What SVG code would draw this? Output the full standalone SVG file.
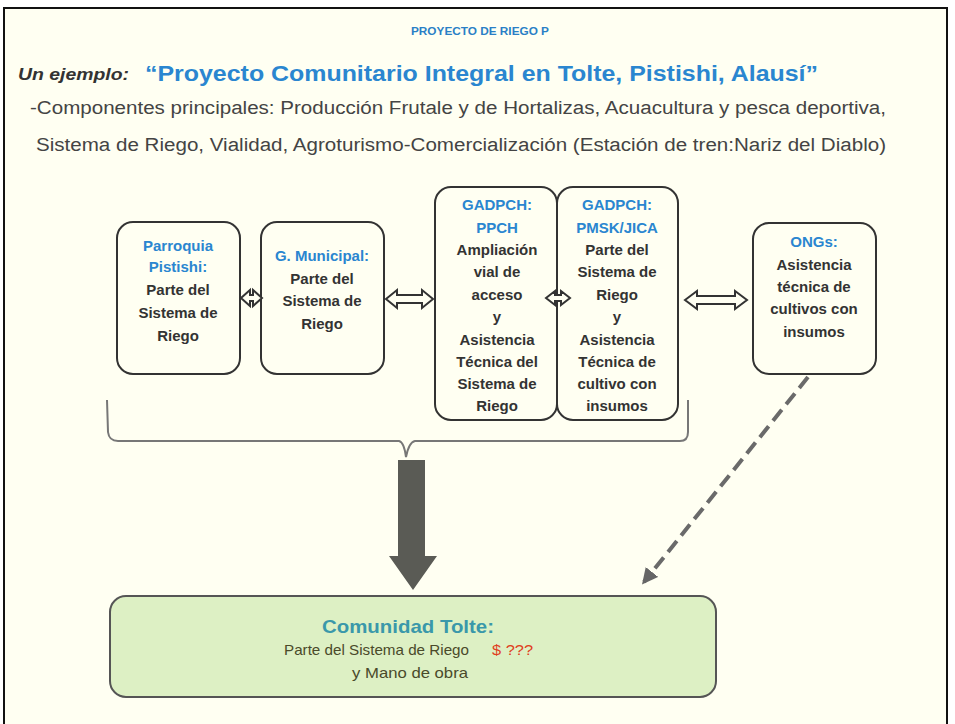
<svg xmlns="http://www.w3.org/2000/svg" width="955" height="724" viewBox="0 0 955 724">
<defs>
<style>
.box{fill:none;stroke:#333;stroke-width:2}
.dbl{fill:#fffff2;stroke:#333;stroke-width:2;stroke-linejoin:miter}
.nt{font-family:"Liberation Sans",Arial,sans-serif;font-weight:bold;font-size:15px;fill:#333;text-anchor:middle}
.bl{fill:#2a86d0}
.body{font-family:"Liberation Sans",Arial,sans-serif;font-size:18px;fill:#444}
</style>
<marker id="ah" viewBox="0 0 10 10" refX="8" refY="5" markerWidth="4" markerHeight="4" orient="auto">
<path d="M0,0 L10,5 L0,10 Z" fill="#666"/>
</marker>
</defs>
<rect x="0" y="0" width="955" height="724" fill="#ffffff"/>
<rect x="4" y="8" width="943" height="730" fill="#fffff2" stroke="#111" stroke-width="2"/>

<g id="header">
<text x="480" y="35" font-family="Liberation Sans,Arial,sans-serif" font-weight="bold" font-size="11" fill="#2a7fc6" text-anchor="middle" textLength="138" lengthAdjust="spacingAndGlyphs">PROYECTO DE RIEGO P</text>
<text x="18" y="80" font-family="Liberation Sans,Arial,sans-serif" font-weight="bold" font-style="italic" font-size="16" fill="#333" textLength="111" lengthAdjust="spacingAndGlyphs">Un ejemplo:</text>
<text x="145" y="81" font-family="Liberation Sans,Arial,sans-serif" font-weight="bold" font-size="22" fill="#2a86d0" textLength="673" lengthAdjust="spacingAndGlyphs">“Proyecto Comunitario Integral en Tolte, Pistishi, Alausí”</text>
<text class="body" x="30" y="114" textLength="856" lengthAdjust="spacingAndGlyphs">-Componentes principales: Producción Frutale y de Hortalizas, Acuacultura y pesca deportiva,</text>
<text class="body" x="36" y="151" textLength="850" lengthAdjust="spacingAndGlyphs">Sistema de Riego, Vialidad, Agroturismo-Comercialización (Estación de tren:Nariz del Diablo)</text>
</g>

<g id="parroquia">
<rect class="box" x="117" y="222" width="123" height="152" rx="16"/>
<text class="nt"><tspan class="bl" x="178" y="251">Parroquia</tspan><tspan class="bl" x="178" y="272">Pistishi:</tspan><tspan x="178" y="295">Parte del</tspan><tspan x="178" y="318">Sistema de</tspan><tspan x="178" y="341">Riego</tspan></text>
</g>

<g id="municipal">
<rect class="box" x="261" y="222" width="123" height="152" rx="16"/>
<text class="nt"><tspan class="bl" x="322" y="261">G. Municipal:</tspan><tspan x="322" y="284">Parte del</tspan><tspan x="322" y="306">Sistema de</tspan><tspan x="322" y="329">Riego</tspan></text>
</g>

<g id="ppch">
<rect class="box" x="435" y="187" width="122" height="233" rx="16"/>
<text class="nt"><tspan class="bl" x="497" y="210">GADPCH:</tspan><tspan class="bl" x="497" y="233">PPCH</tspan><tspan x="497" y="255">Ampliación</tspan><tspan x="497" y="277">vial  de</tspan><tspan x="497" y="300">acceso</tspan><tspan x="497" y="322">y</tspan><tspan x="497" y="345">Asistencia</tspan><tspan x="497" y="367">Técnica del</tspan><tspan x="497" y="389">Sistema de</tspan><tspan x="497" y="411">Riego</tspan></text>
</g>

<g id="jica">
<rect class="box" x="557" y="187" width="121" height="233" rx="16"/>
<text class="nt"><tspan class="bl" x="617" y="210">GADPCH:</tspan><tspan class="bl" x="617" y="233">PMSK/JICA</tspan><tspan x="617" y="255">Parte del</tspan><tspan x="617" y="277">Sistema de</tspan><tspan x="617" y="300">Riego</tspan><tspan x="617" y="322">y</tspan><tspan x="617" y="345">Asistencia</tspan><tspan x="617" y="367">Técnica de</tspan><tspan x="617" y="389">cultivo con</tspan><tspan x="617" y="411">insumos</tspan></text>
</g>

<g id="ongs">
<rect class="box" x="753" y="223" width="123" height="151" rx="16"/>
<text class="nt"><tspan class="bl" x="814" y="247">ONGs:</tspan><tspan x="814" y="270">Asistencia</tspan><tspan x="814" y="292">técnica de</tspan><tspan x="814" y="314">cultivos con</tspan><tspan x="814" y="337">insumos</tspan></text>
</g>

<g id="tolte">
<rect x="110" y="596" width="606" height="101" rx="16" fill="#ddf0c4" stroke="#555" stroke-width="2"/>
<text x="408" y="633" font-family="Liberation Sans,Arial,sans-serif" font-weight="bold" font-size="19" fill="#3a98aa" text-anchor="middle" textLength="172" lengthAdjust="spacingAndGlyphs">Comunidad Tolte:</text>
<text x="284" y="655" font-family="Liberation Sans,Arial,sans-serif" font-size="14.5" fill="#4a4a2a"><tspan textLength="185" lengthAdjust="spacingAndGlyphs">Parte del Sistema de Riego</tspan><tspan x="492" fill="#e0401e" textLength="41" lengthAdjust="spacingAndGlyphs">$ ???</tspan></text>
<text x="410" y="678" font-family="Liberation Sans,Arial,sans-serif" font-size="14.5" fill="#4a4a2a" text-anchor="middle" textLength="116" lengthAdjust="spacingAndGlyphs">y Mano de obra</text>
</g>

<g id="connectors">
<path class="dbl" d="M241,298 L250,290 L250,295 L253,295 L253,290 L262,298 L253,306 L253,301 L250,301 L250,306 Z"/>
<path class="dbl" d="M386,299 L397,290 L397,295 L422,295 L422,290 L433,299 L422,308 L422,303 L397,303 L397,308 Z"/>
<path class="dbl" d="M546,298 L555,291 L555,295 L561,295 L561,291 L570,298 L561,305 L561,301 L555,301 L555,305 Z"/>
<path class="dbl" d="M685,300 L697,291 L697,296 L735,296 L735,291 L747,300 L735,309 L735,304 L697,304 L697,309 Z"/>
<path d="M107,400 L108,432 Q109,441 118,441 L399,441 Q404,442 406,457 Q409,442 415,441 L680,441 Q688,441 688,432 L688,400" fill="none" stroke="#777" stroke-width="2"/>
<path d="M398,460 L425,460 L425,556 L437,556 L413,590 L389,556 L398,556 Z" fill="#5a5b55"/>
<line x1="808" y1="377" x2="644" y2="582" stroke="#6a6a6a" stroke-width="4" stroke-dasharray="14,7" marker-end="url(#ah)"/>
</g>
</svg>
